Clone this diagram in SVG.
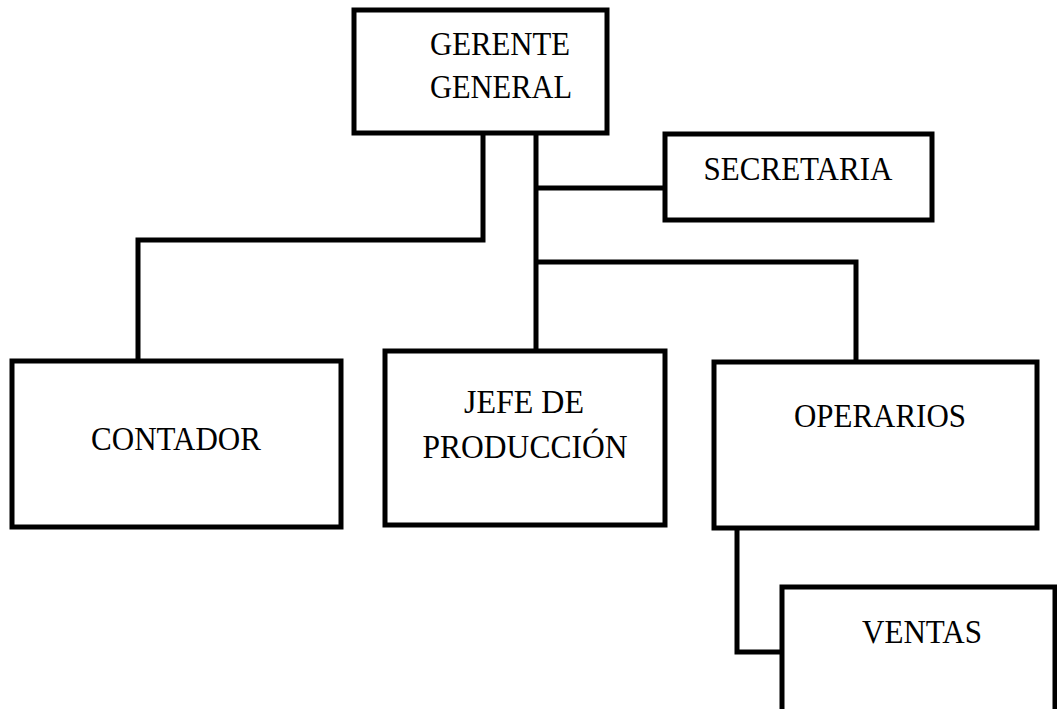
<svg xmlns="http://www.w3.org/2000/svg" width="1057" height="709" viewBox="0 0 1057 709">
<style>
.box{fill:#fff;stroke:#000;stroke-width:5}
.con{fill:none;stroke:#000;stroke-width:5;stroke-linejoin:miter}
.t{font-family:"Liberation Serif","Times New Roman",serif;font-size:33px;fill:#000;text-anchor:middle}
</style>
<rect width="1057" height="709" fill="#fff"/>
<g id="connectors">
<polyline class="con" points="483,133 483,240 138,240 138,361"/>
<polyline class="con" points="536,133 536,351"/>
<polyline class="con" points="536,188 665,188"/>
<polyline class="con" points="536,262 856,262 856,362"/>
<polyline class="con" points="737,528 737,652 782,652"/>
</g>
<g id="gerente">
<rect class="box" x="354" y="10" width="253" height="123"/>
<text class="t" x="500" y="55" textLength="140" lengthAdjust="spacingAndGlyphs">GERENTE</text>
<text class="t" x="501" y="98" textLength="142" lengthAdjust="spacingAndGlyphs">GENERAL</text>
</g>
<g id="secretaria">
<rect class="box" x="665" y="134" width="267" height="86"/>
<text class="t" x="798" y="180" textLength="189" lengthAdjust="spacingAndGlyphs">SECRETARIA</text>
</g>
<g id="contador">
<rect class="box" x="12" y="361" width="329" height="166"/>
<text class="t" x="176" y="450" textLength="170" lengthAdjust="spacingAndGlyphs">CONTADOR</text>
</g>
<g id="jefe">
<rect class="box" x="385" y="351" width="280" height="174"/>
<text class="t" x="524" y="413" textLength="120" lengthAdjust="spacingAndGlyphs">JEFE DE</text>
<text class="t" x="525" y="458" textLength="205" lengthAdjust="spacingAndGlyphs">PRODUCCIÓN</text>
</g>
<g id="operarios">
<rect class="box" x="714" y="362" width="323" height="166"/>
<text class="t" x="880" y="427" textLength="172" lengthAdjust="spacingAndGlyphs">OPERARIOS</text>
</g>
<g id="ventas">
<rect class="box" x="782" y="587" width="273" height="140"/>
<text class="t" x="922" y="643" textLength="120" lengthAdjust="spacingAndGlyphs">VENTAS</text>
</g>
</svg>
